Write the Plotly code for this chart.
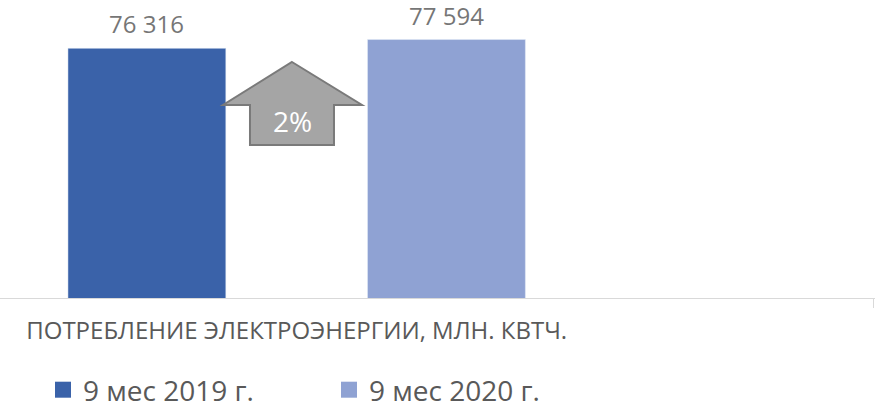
import plotly.graph_objects as go

# ---- data ----
categories = ["ПОТРЕБЛЕНИЕ ЭЛЕКТРОЭНЕРГИИ, МЛН. КВТЧ."]
series_names = ["9 мес 2019 г.", "9 мес 2020 г."]
values_2019 = [76316]
values_2020 = [77594]
colors = ["#3A62A9", "#8FA2D3"]

FONT = "Open Sans"
W, H = 882, 408
ML, MR, MT, MB = 0, 7, 23, 110
PW = W - ML - MR
PH = H - MT - MB

BARGAP = 0.481
BARGROUPGAP = 0.473
X_RANGE = [-0.257, 0.501]
Y_RANGE = [40000, 80000]

def fmt(v):
    return f"{v:,}".replace(",", " ")

fig = go.Figure()
for name, vals, col in zip(series_names, [values_2019, values_2020], colors):
    fig.add_trace(go.Bar(
        x=categories, y=vals, name=name, marker_color=col,
        showlegend=False, hoverinfo="skip",
    ))

# legend entries (square symbols)
for i, (name, col) in enumerate(zip(series_names, colors)):
    fig.add_trace(go.Scatter(
        x=[None], y=[None], mode="markers", name=name,
        marker=dict(symbol="square", size=18, color=col),
        legend="legend" if i == 0 else "legend2",
    ))

# value labels above bars
slot = (1 - BARGAP) / 2
offsets = [-slot / 2, slot / 2]
annotations = []
for off, vals in zip(offsets, [values_2019, values_2020]):
    annotations.append(dict(
        x=off, y=vals[0], xref="x", yref="y", text=fmt(vals[0]),
        showarrow=False, yanchor="bottom", yshift=6,
        font=dict(family=FONT, size=24, color="#767676"),
    ))

# arrow shape (pixel -> paper)
def px(x):
    return (x - ML) / PW

def py(y):
    return (MT + PH - y) / PH

pts = [(292, 62), (362, 105), (334, 105), (334, 145), (250, 145), (250, 105), (223, 105)]
path = "M " + " L ".join(f"{px(a):.4f},{py(b):.4f}" for a, b in pts) + " Z"
fig.add_shape(type="path", path=path, xref="paper", yref="paper",
              fillcolor="#A5A5A5", line=dict(color="#7A7A7A", width=2))

pct = round((values_2020[0] / values_2019[0] - 1) * 100)
annotations.append(dict(
    x=px(292), y=py(121), xref="paper", yref="paper", text=f"{pct}%",
    showarrow=False, font=dict(family=FONT, size=28, color="#FFFFFF"),
))

fig.update_layout(
    width=W, height=H,
    margin=dict(l=ML, r=MR, t=MT, b=MB, autoexpand=False),
    paper_bgcolor="white", plot_bgcolor="white",
    barmode="group", bargap=BARGAP, bargroupgap=BARGROUPGAP,
    font=dict(family=FONT, color="#595959"),
    annotations=annotations,
    xaxis=dict(
        type="category", range=X_RANGE, showgrid=False, zeroline=False,
        showline=True, linecolor="#D9D9D9", linewidth=1, automargin=False,
        ticks="outside", tickson="boundaries", ticklen=9, tickcolor="#D9D9D9", tickwidth=1,
        tickfont=dict(family=FONT, size=24, color="#595959"),
        ticklabelstandoff=11,
    ),
    yaxis=dict(range=Y_RANGE, visible=False, showgrid=False, zeroline=False, automargin=False),
    legend=dict(orientation="h", xref="container", yref="container",
                x=43 / W, y=(H - 390) / H, xanchor="left", yanchor="middle",
                font=dict(family=FONT, size=28, color="#595959"), bgcolor="rgba(0,0,0,0)"),
    legend2=dict(orientation="h", xref="container", yref="container",
                 x=329 / W, y=(H - 390) / H, xanchor="left", yanchor="middle",
                 font=dict(family=FONT, size=28, color="#595959"), bgcolor="rgba(0,0,0,0)"),
)

fig.write_html("out.html", config={"displayModeBar": False},
               post_script="document.body.style.margin='0';document.body.style.overflow='hidden';")
